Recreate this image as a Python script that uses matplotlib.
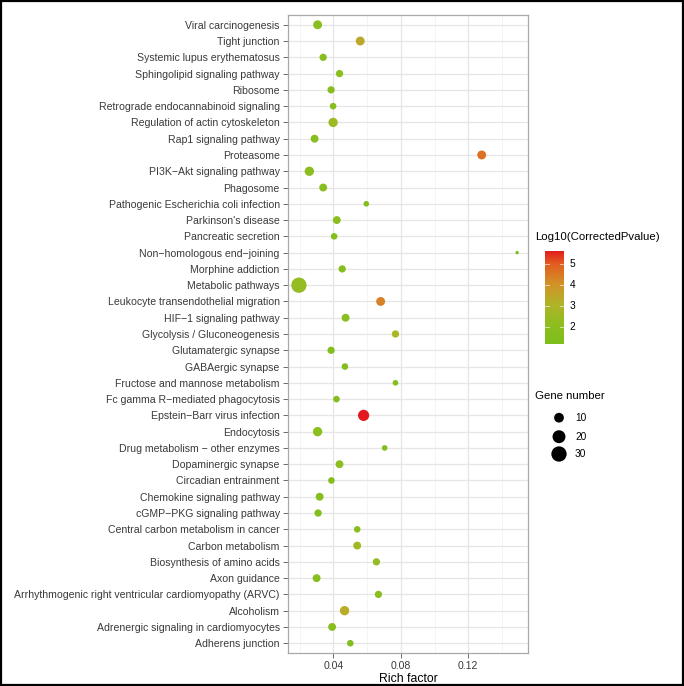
import numpy as np
import matplotlib
matplotlib.use("Agg")
import matplotlib.pyplot as plt
from matplotlib.colors import LinearSegmentedColormap, Normalize
from matplotlib.patches import Rectangle

plt.rcParams['font.family'] = ['Liberation Sans', 'DejaVu Sans']

# ---- data (top to bottom as shown) ----
pathways = [
    "Viral carcinogenesis", "Tight junction", "Systemic lupus erythematosus",
    "Sphingolipid signaling pathway", "Ribosome", "Retrograde endocannabinoid signaling",
    "Regulation of actin cytoskeleton", "Rap1 signaling pathway", "Proteasome",
    "PI3K\u2212Akt signaling pathway", "Phagosome", "Pathogenic Escherichia coli infection",
    "Parkinson's disease", "Pancreatic secretion", "Non\u2212homologous end\u2212joining",
    "Morphine addiction", "Metabolic pathways", "Leukocyte transendothelial migration",
    "HIF\u22121 signaling pathway", "Glycolysis / Gluconeogenesis", "Glutamatergic synapse",
    "GABAergic synapse", "Fructose and mannose metabolism", "Fc gamma R\u2212mediated phagocytosis",
    "Epstein\u2212Barr virus infection", "Endocytosis", "Drug metabolism \u2212 other enzymes",
    "Dopaminergic synapse", "Circadian entrainment", "Chemokine signaling pathway",
    "cGMP\u2212PKG signaling pathway", "Central carbon metabolism in cancer", "Carbon metabolism",
    "Biosynthesis of amino acids", "Axon guidance",
    "Arrhythmogenic right ventricular cardiomyopathy (ARVC)", "Alcoholism",
    "Adrenergic signaling in cardiomyocytes", "Adherens junction",
]
rich_factor = [
    0.0306, 0.0559, 0.0339, 0.0436, 0.0386, 0.0398, 0.0398, 0.0288, 0.1280,
    0.0257, 0.0339, 0.0595, 0.0420, 0.0404, 0.1490, 0.0452, 0.0195, 0.0680,
    0.0472, 0.0768, 0.0386, 0.0468, 0.0768, 0.0418, 0.0579, 0.0306, 0.0704,
    0.0436, 0.0388, 0.0318, 0.0309, 0.0541, 0.0541, 0.0655, 0.0300, 0.0667,
    0.0466, 0.0392, 0.0500,
]
gene_number = [
    8, 8, 5, 5, 5, 4, 9, 6, 8,
    9, 6, 3, 6, 4, 2, 5, 30, 8,
    6, 5, 5, 4, 3, 4, 14, 9, 3,
    6, 4, 6, 5, 4, 6, 5, 6, 5,
    9, 6, 4,
]
log10_p = [
    2.0, 3.4, 1.8, 2.0, 1.8, 1.7, 2.5, 1.8, 4.6,
    2.0, 1.8, 1.6, 2.0, 1.6, 1.22, 1.7, 2.3, 4.3,
    1.9, 2.9, 1.6, 1.6, 1.7, 1.6, 5.59, 2.0, 1.6,
    2.0, 1.5, 1.7, 1.6, 1.9, 2.6, 2.3, 1.8, 2.0,
    3.3, 1.9, 1.6,
]
x_ticks = [0.04, 0.08, 0.12]
x_tick_labels = ["0.04", "0.08", "0.12"]
color_ticks = [2, 3, 4, 5]
size_breaks = [10, 20, 30]

cmap = LinearSegmentedColormap.from_list("gr", [
    (0.00, (124/255, 190/255, 28/255)),
    (0.20, (142/255, 190/255, 32/255)),
    (0.42, (176/255, 180/255, 40/255)),
    (0.64, (210/255, 146/255, 40/255)),
    (0.86, (226/255, 92/255, 32/255)),
    (1.00, (226/255, 24/255, 30/255)),
])
vmin, vmax = min(log10_p), max(log10_p)
norm = Normalize(vmin, vmax)
gmin, gmax = min(gene_number), max(gene_number)
dmin_px, dmax_px = 3.4, 15.3

def size_pts2(g):
    g = np.asarray(g, dtype=float)
    d = dmin_px + (dmax_px - dmin_px) * np.sqrt((g - gmin) / (gmax - gmin))
    return (d * 0.72) ** 2

W, H = 684, 686
fig = plt.figure(figsize=(W / 100, H / 100), dpi=100)
fig.patch.set_facecolor("white")

ax = fig.add_axes([288 / W, 1 - 653 / H, 240 / W, 638 / H])
n = len(pathways)
ypos = np.arange(n, 0, -1)
ax.scatter(rich_factor, ypos, s=size_pts2(gene_number), c=log10_p, cmap=cmap, norm=norm,
           linewidths=0, zorder=3)

xr = max(rich_factor) - min(rich_factor)
ax.set_xlim(min(rich_factor) - 0.05 * xr, max(rich_factor) + 0.05 * xr)
ax.set_ylim(0.4, n + 0.6)
ax.set_yticks(ypos)
ax.set_yticklabels(pathways)
ax.set_xticks(x_ticks)
ax.set_xticklabels(x_tick_labels)
ax.set_xticks([0.02, 0.06, 0.10, 0.14], minor=True)
ax.grid(True, which="major", color="#E6E6E6", linewidth=0.9, zorder=0)
ax.grid(True, which="minor", axis="x", color="#F0F0F0", linewidth=0.5, zorder=0)
ax.set_axisbelow(True)
for s in ax.spines.values():
    s.set_color("#A8A8A8")
    s.set_linewidth(0.9)
ax.tick_params(axis="both", which="major", labelsize=7.6, labelcolor="#3A3A3A",
               color="#555555", length=3.5, width=0.6, pad=2.5)
ax.tick_params(axis="x", which="minor", length=0)
ax.set_xlabel("Rich factor", fontsize=8.8, color="black", labelpad=1)

# ---- colour legend ----
fig.text(535 / W, 1 - 237 / H, "Log10(CorrectedPvalue)", fontsize=8.2, va="center", ha="left")
cax = fig.add_axes([545 / W, 1 - 344 / H, 19 / W, 93 / H])
grad = np.linspace(vmin, vmax, 256).reshape(-1, 1)
cax.imshow(grad, aspect="auto", cmap=cmap, norm=norm, origin="lower",
           extent=[0, 1, vmin, vmax])
cax.set_xlim(0, 1)
cax.set_ylim(vmin, vmax)
cax.set_xticks([])
cax.set_yticks([])
for s in cax.spines.values():
    s.set_visible(False)
for t in color_ticks:
    cax.plot([0, 0.2], [t, t], color="white", lw=0.7, alpha=0.6)
    cax.plot([0.8, 1], [t, t], color="white", lw=0.7, alpha=0.6)
    cax.annotate(str(t), xy=(1, t), xycoords=("axes fraction", "data"),
                 xytext=(4, 0), textcoords="offset points", fontsize=7.3,
                 va="center", ha="left", color="black", annotation_clip=False)

# ---- size legend ----
fig.text(535 / W, 1 - 396 / H, "Gene number", fontsize=8.2, va="center", ha="left")
lax = fig.add_axes([545 / W, 1 - 464 / H, 60 / W, 56 / H])
lax.set_xlim(0, 60)
lax.set_ylim(464, 408)
lax.axis("off")
leg_y = [417.7, 436.7, 454.0]
lax.scatter([14] * 3, leg_y, s=size_pts2(size_breaks), color="black", linewidths=0)
for yy, b in zip(leg_y, size_breaks):
    lax.text(30, yy, str(b), fontsize=7.3, va="center", ha="left", color="black")

# ---- outer frame ----
fig.add_artist(Rectangle((0.001, 0.001), 0.998, 0.998, transform=fig.transFigure,
                         fill=False, edgecolor="black", linewidth=1.6))

fig.savefig("out.png", dpi=100, facecolor="white")
